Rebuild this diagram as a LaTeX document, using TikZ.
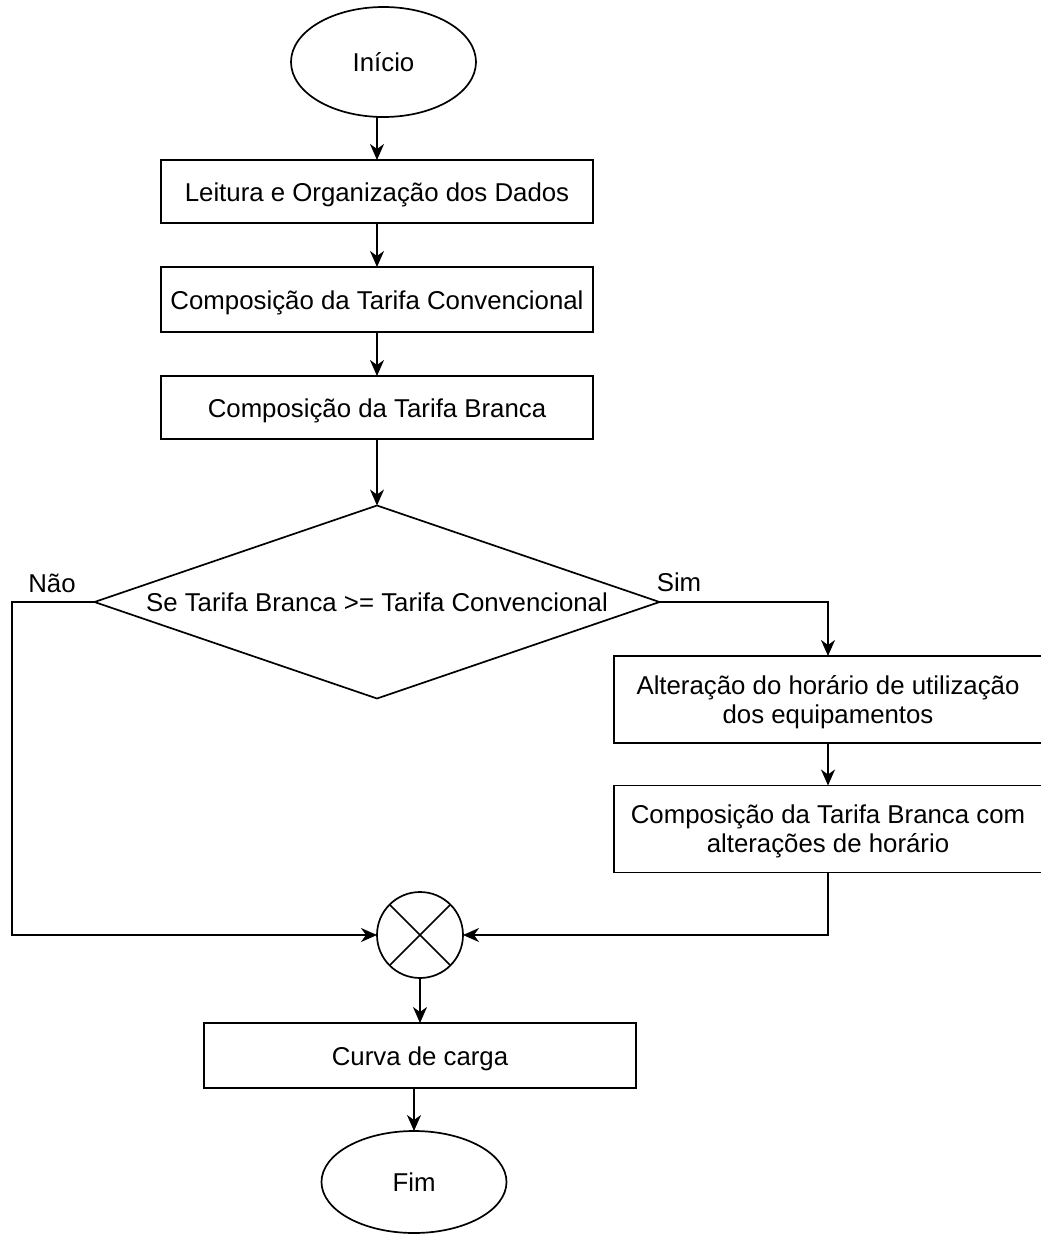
\documentclass[tikz,border=0pt]{standalone}
\usepackage{fontspec}
\setmainfont{Liberation Sans}
\usetikzlibrary{shapes.geometric,arrows.meta,calc}
\begin{document}
\begin{tikzpicture}[x=1pt,y=-1pt,
  font=\fontsize{25.8}{29}\selectfont,
  every node/.style={inner sep=0pt, outer sep=0pt},
  line/.style={draw=black, line width=1.7pt},
  oneline/.style={text height=19.5pt, text depth=0.5pt},
  twolines/.style={text depth=0pt},
  proc/.style={line, rectangle, minimum height=63pt, minimum width=432pt, align=center},
  term/.style={line, ellipse, minimum width=185pt, minimum height=110pt, oneline},
  decision/.style={line, diamond, shape aspect=2.93, minimum width=565pt, minimum height=193pt, oneline},
  junction/.style={line, circle, minimum size=86pt},
  flow/.style={line, -{Stealth[length=16pt,width=14pt,inset=5pt]}}
]
\useasboundingbox (0,0) rectangle (1041,1234);

% main column
\node[term] (start) at (383.5,62) {Início};
\node[proc, oneline] (b1) at (377,191.5) {Leitura e Organização dos Dados};
\node[proc, oneline, minimum height=65pt] (b2) at (377,299.5) {Composição da Tarifa Convencional};
\node[proc, oneline] (b3) at (377,407.5) {Composição da Tarifa Branca};
\node[decision] (dec) at (377,602) {Se Tarifa Branca >= Tarifa Convencional};
\node[oneline] (no) at (52,583) {Não};
\node[oneline] (yes) at (679,582) {Sim};

% right branch
\node[proc, twolines, minimum width=428pt, minimum height=87pt] (b4) at (828,699.5)
  {Alteração do horário de utilização\\dos equipamentos};
\node[proc, twolines, minimum width=428pt, minimum height=87pt] (b5) at (828,829)
  {Composição da Tarifa Branca com\\alterações de horário};

% merge and end
\node[junction] (join) at (420,935) {};
\draw[line] (join.north west) -- (join.south east)
            (join.north east) -- (join.south west);
\node[proc, oneline, minimum height=65pt] (b6) at (420,1055.5) {Curva de carga};
\node[term, minimum height=102pt] (end) at (414,1182) {Fim};

\coordinate (nocorner) at (12,602);

% connectors
\draw[flow] (start.south -| b1.north) -- (b1.north);
\draw[flow] (b1) -- (b2);
\draw[flow] (b2) -- (b3);
\draw[flow] (b3) -- (dec.north);
\draw[flow] (dec.west) -- (nocorner) |- (join.west);
\draw[flow] (dec.east) -| (b4.north);
\draw[flow] (b4) -- (b5);
\draw[flow] (b5.south) |- (join.east);
\draw[flow] (join.south) -- (b6.north);
\draw[flow] (b6.south -| end.north) -- (end.north);
\end{tikzpicture}
\end{document}
